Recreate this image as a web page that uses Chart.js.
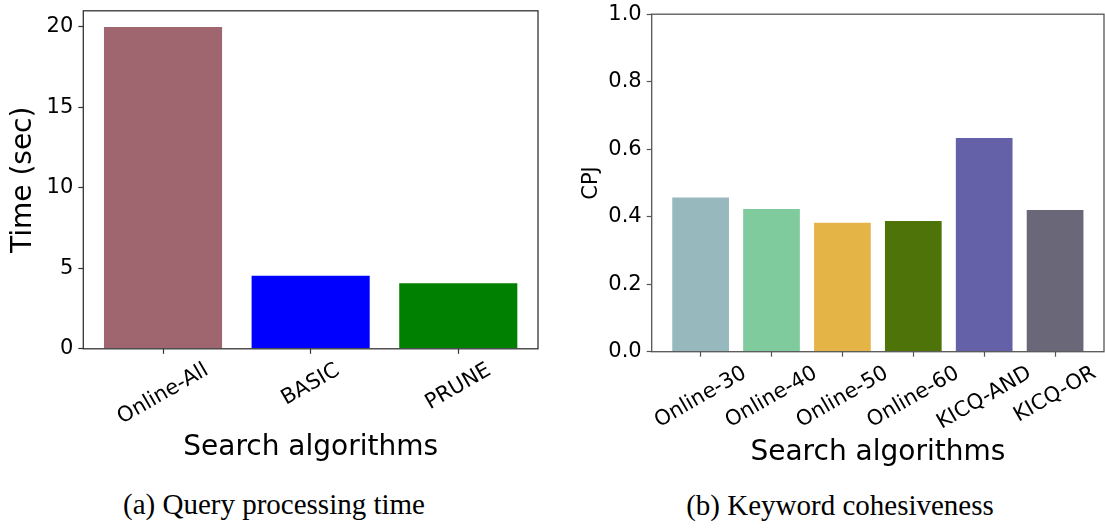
<!DOCTYPE html>
<html>
<head>
<meta charset="utf-8">
<script src="https://cdn.jsdelivr.net/npm/chart.js@4.4.1/dist/chart.umd.min.js"></script>
<style>
  html, body { margin: 0; padding: 0; background: #fff; }
  #page { position: relative; width: 1105px; height: 528px; overflow: hidden; background: #fff; }
  canvas { position: absolute; top: 0; }
  #timeChart { left: 0; }
  #cpjChart { left: 552px; }
  .caption {
    position: absolute; width: 500px; text-align: center;
    font-family: "Liberation Serif", "Times New Roman", serif;
    font-size: 29px; line-height: 29px; color: #000; white-space: nowrap;
  }
</style>
</head>
<body>
<div id="page">
  <canvas id="timeChart" width="552" height="470"></canvas>
  <canvas id="cpjChart" width="553" height="470"></canvas>
  <div class="caption" style="left:24px; top:490px;">(a) Query processing time</div>
  <div class="caption" style="left:590px; top:491px;">(b) Keyword cohesiveness</div>
</div>
<script>
// left panel: query processing time
const timeCategories = ["Online-All", "BASIC", "PRUNE"];
const timeValues = [20.0, 4.54, 4.08];
const timeTicks = [0, 5, 10, 15, 20];
const timeColors = ["#a0666f", "#0000ff", "#008000"];

// right panel: keyword cohesiveness
const cpjCategories = ["Online-30", "Online-40", "Online-50", "Online-60", "KICQ-AND", "KICQ-OR"];
const cpjValues = [0.457, 0.423, 0.382, 0.387, 0.633, 0.420];
const cpjTicks = [0.0, 0.2, 0.4, 0.6, 0.8, 1.0];
const cpjColors = ["#97b8bd", "#80cb9d", "#e4b447", "#4e7308", "#6461a8", "#6a6878"];

const FONT = "DejaVu Sans";

// matplotlib-style rotated tick labels, centred under each tick
const rotatedLabels = {
  id: "rotatedLabels",
  afterDraw(chart, args, opts) {
    const ctx = chart.ctx;
    const scale = chart.scales.x;
    const a = Math.PI / 6;
    const size = 21;
    ctx.save();
    ctx.font = size + "px \"" + FONT + "\"";
    ctx.fillStyle = "#000";
    ctx.textAlign = "center";
    ctx.textBaseline = "middle";
    opts.labels.forEach((label, i) => {
      const w = ctx.measureText(label).width;
      const boxH = w * Math.sin(a) + size * 1.164 * Math.cos(a);
      const cx = scale.getPixelForValue(i);
      const cy = chart.chartArea.bottom + 9.5 + boxH / 2;
      ctx.save();
      ctx.translate(cx, cy);
      ctx.rotate(-a);
      ctx.fillText(label, 0, 0);
      ctx.restore();
    });
    ctx.restore();
  }
};

// the four spines
const frame = {
  id: "frame",
  afterDatasetsDraw(chart, args, opts) {
    const {ctx, chartArea} = chart;
    ctx.save();
    ctx.strokeStyle = opts.color;
    ctx.lineWidth = 1.3;
    ctx.strokeRect(chartArea.left, chartArea.top,
      chartArea.right - chartArea.left, chartArea.bottom - chartArea.top);
    ctx.restore();
  }
};

function makeChart(id, cfg) {
  const n = cfg.categories.length;
  const margin = 0.05 * (n - 1 + 0.8);
  return new Chart(document.getElementById(id), {
    type: "bar",
    data: {
      datasets: [{
        data: cfg.values.map((v, i) => ({x: i, y: v})),
        backgroundColor: cfg.colors,
        borderWidth: 0,
        barPercentage: 0.8,
        categoryPercentage: 1.0
      }]
    },
    plugins: [rotatedLabels, frame],
    options: {
      responsive: false,
      animation: false,
      devicePixelRatio: 1,
      layout: { padding: cfg.padding },
      plugins: {
        legend: { display: false },
        tooltip: { enabled: false },
        rotatedLabels: { labels: cfg.categories },
        frame: { color: cfg.spine }
      },
      scales: {
        x: {
          type: "linear",
          offset: false,
          min: -0.4 - margin,
          max: n - 1 + 0.4 + margin,
          afterBuildTicks: s => { s.ticks = cfg.categories.map((c, i) => ({value: i})); },
          afterFit: s => {
            s.height = cfg.xHeight;
            s.paddingLeft = 0; s.paddingRight = 0;
          },
          ticks: { display: false },
          grid: {
            offset: false, drawOnChartArea: false, drawTicks: true,
            tickLength: 5, tickColor: cfg.spine, tickWidth: 1.2
          },
          border: { display: false },
          title: {
            display: true, text: "Search algorithms", color: "#000",
            font: { family: FONT, size: 28 },
            padding: { top: 0, bottom: cfg.xTitlePad }
          }
        },
        y: {
          min: 0,
          max: cfg.yMax,
          afterBuildTicks: s => { s.ticks = cfg.ticks.map(v => ({value: v})); },
          afterFit: s => {
            s.width = cfg.yWidth;
            s.paddingTop = 0; s.paddingBottom = 0;
          },
          ticks: {
            color: "#000", padding: 5,
            font: { family: FONT, size: 21 },
            callback: v => cfg.tickFmt(v)
          },
          grid: {
            drawOnChartArea: false, drawTicks: true,
            tickLength: 5, tickColor: cfg.spine, tickWidth: 1.2
          },
          border: { display: false },
          title: {
            display: true, text: cfg.yTitle, color: "#000",
            font: { family: FONT, size: cfg.yTitleSize },
            padding: { top: cfg.yTitlePad, bottom: 0 }
          }
        }
      }
    }
  });
}

makeChart("timeChart", {
  categories: timeCategories, values: timeValues, colors: timeColors,
  ticks: timeTicks, yMax: 21, tickFmt: v => String(v),
  yTitle: "Time (sec)", yTitleSize: 28, yTitlePad: 7,
  yWidth: 83.3, xHeight: 121.2, xTitlePad: 5,
  padding: { left: 0, right: 14, top: 10.8, bottom: 0 },
  spine: "#333"
});

makeChart("cpjChart", {
  categories: cpjCategories, values: cpjValues, colors: cpjColors,
  ticks: cpjTicks, yMax: 1.0, tickFmt: v => v.toFixed(1),
  yTitle: "CPJ", yTitleSize: 21, yTitlePad: 27.4,
  yWidth: 99.7, xHeight: 118.3, xTitlePad: 0,
  padding: { left: 0, right: 1, top: 14.2, bottom: 0 },
  spine: "#555"
});
</script>
</body>
</html>
